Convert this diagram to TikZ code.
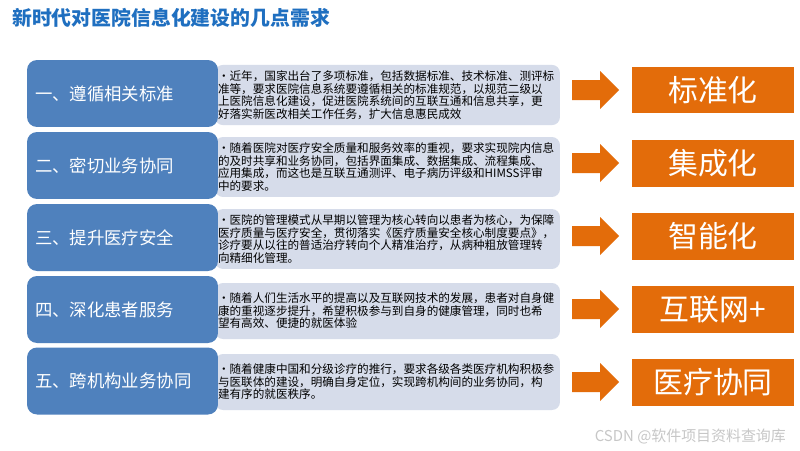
\documentclass[tikz,border=0pt]{standalone}
\usepackage{fontspec}
\setmainfont{Noto Sans CJK SC}
\usetikzlibrary{positioning}
\definecolor{reqblue}{HTML}{4F81BD}
\definecolor{descgray}{HTML}{D6DCEA}
\definecolor{resorange}{HTML}{E36C0A}
\definecolor{titleblue}{HTML}{1F6FC0}
\tikzset{
    reqbox/.style={fill=reqblue, rounded corners=0.2cm, text=white, inner xsep=0.16cm,
        text width=3.5cm, align=left, minimum height=1.34cm, font=\fontsize{9.9}{11}\selectfont},
    descbox/.style={fill=descgray, rounded corners=0.16cm, inner xsep=0.06cm, text width=6.78cm,
        align=left, minimum height=1.12cm, font=\fontsize{6.6}{7.1}\selectfont},
    resbox/.style={fill=resorange, text=white, minimum width=3.24cm, minimum height=0.94cm,
        font=\fontsize{17}{18}\selectfont}
}
\begin{document}
\begin{tikzpicture}[x=0.02cm, y=-0.02cm]
    \useasboundingbox[fill=white] (0,0) rectangle (800,450);
    % 标题
    \node[anchor=west, text=titleblue, font=\bfseries\fontsize{11.3}{12}\selectfont] (title) at (6,18) {新时代对医院信息化建设的几点需求};

    % 中间：说明文字
    \node[descbox] (desc1) at (387.5,95) {\hangindent=0.08cm\hangafter=1 •近年，国家出台了多项标准，包括数据标准、技术标准、测评标\\准等，要求医院信息系统要遵循相关的标准规范，以规范二级以\\上医院信息化建设，促进医院系统间的互联互通和信息共享，更\\好落实新医改相关工作任务，扩大信息惠民成效};
    \node[descbox] (desc2) at (387.5,167) {\hangindent=0.08cm\hangafter=1 •随着医院对医疗安全质量和服务效率的重视，要求实现院内信息\\的及时共享和业务协同，包括界面集成、数据集成、流程集成、\\应用集成，而这也是互联互通测评、电子病历评级和HIMSS评审\\中的要求。};
    \node[descbox] (desc3) at (387.5,239) {\hangindent=0.08cm\hangafter=1 •医院的管理模式从早期以管理为核心转向以患者为核心，为保障\\医疗质量与医疗安全，贯彻落实《医疗质量安全核心制度要点》，\\诊疗要从以往的普适治疗转向个人精准治疗，从病种粗放管理转\\向精细化管理。};
    \node[descbox] (desc4) at (387.5,311) {\hangindent=0.08cm\hangafter=1 •随着人们生活水平的提高以及互联网技术的发展，患者对自身健\\康的重视逐步提升，希望积极参与到自身的健康管理，同时也希\\望有高效、便捷的就医体验};
    \node[descbox] (desc5) at (387.5,382) {\hangindent=0.08cm\hangafter=1 •随着健康中国和分级诊疗的推行，要求各级各类医疗机构积极参\\与医联体的建设，明确自身定位，实现跨机构间的业务协同，构\\建有序的就医秩序。};

    % 左边：五点需求
    \node[reqbox] (req1) at (122.5,93.5) {一、遵循相关标准};
    \node[reqbox] (req2) at (122.5,165.5) {二、密切业务协同};
    \node[reqbox] (req3) at (122.5,237.5) {三、提升医疗安全};
    \node[reqbox] (req4) at (122.5,309.5) {四、深化患者服务};
    \node[reqbox] (req5) at (122.5,381) {五、跨机构业务协同};

    % 右边：箭头与结果
    \foreach \y in {90,163,236,309,382}
        \fill[resorange] (572,\y-10) -- (600,\y-10) -- (600,\y-19) -- (619,\y)
            -- (600,\y+19) -- (600,\y+10) -- (572,\y+10) -- cycle;

    \node[resbox] (res1) at (713,90) {标准化};
    \node[resbox] (res2) at (713,163) {集成化};
    \node[resbox] (res3) at (713,236) {智能化};
    \node[resbox] (res4) at (713,309) {互联网+};
    \node[resbox] (res5) at (713,382) {医疗协同};

    % 水印
    \node[anchor=east, text=black!22, font=\fontsize{8.5}{9}\selectfont] (mark) at (792,437) {CSDN @软件项目资料查询库};
\end{tikzpicture}
\end{document}
